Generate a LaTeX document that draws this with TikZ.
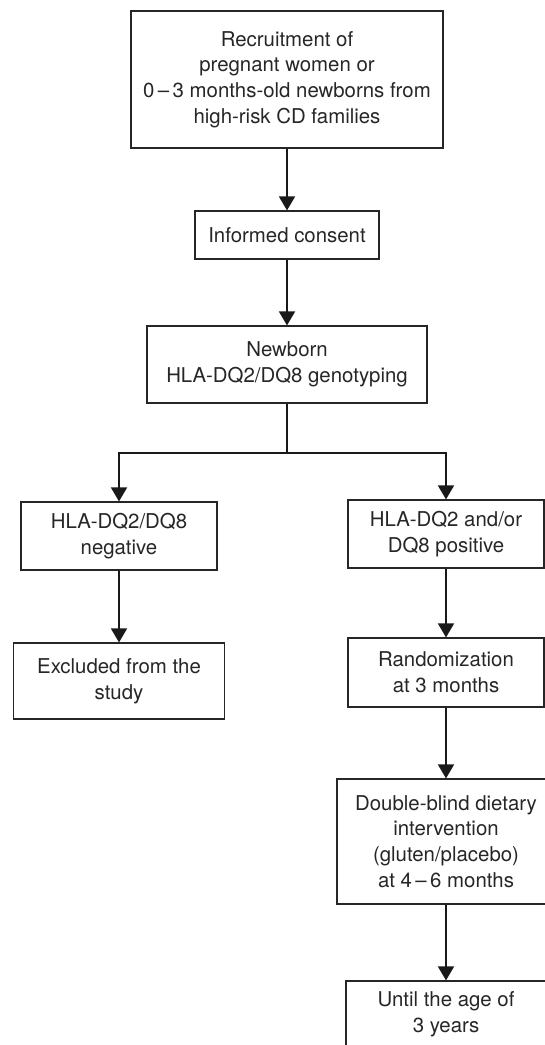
\documentclass[tikz,border=0pt]{standalone}
\usepackage{fontspec}
\setmainfont{TeX Gyre Heros}
\usepackage{tikz}
\usetikzlibrary{arrows.meta,positioning}
\tikzstyle{stage} = [rectangle, draw=black!85, line width=0.6pt, align=center, inner sep=2pt, text=black!85, font=\fontsize{10.2}{12.85}\selectfont]
\tikzstyle{arrow} = [-{Triangle[length=7pt,width=8pt]}, line width=0.9pt, draw=black!90]
\tikzstyle{branch} = [line width=0.9pt, draw=black!90]

\begin{document}
\begin{tikzpicture}[x=0.5pt, y=-0.5pt]
\useasboundingbox (0,0) rectangle (545,1045);
% main trunk
\node[stage, minimum width=156pt, minimum height=68.5pt] (recruit) at (287,79.5) {Recruitment of\\pregnant women or\\0\,--\,3 months-old newborns from\\high-risk CD families};
\node[stage, minimum width=92pt, minimum height=24pt] (consent) at (287,235) {Informed consent};
\node[stage, minimum width=140pt, minimum height=38.5pt] (genotype) at (287,364.5) {Newborn\\HLA-DQ2/DQ8 genotyping};
\coordinate (split) at (287,453);
\draw[arrow] (recruit) -- (consent);
\draw[arrow] (consent) -- (genotype);
\draw[branch] (genotype) -- (split);

% negative branch
\node[stage, minimum width=98pt, minimum height=34pt] (negative) at (119,536) {HLA-DQ2/DQ8\\negative};
\node[stage, minimum width=105.5pt, minimum height=38pt] (excluded) at (119,681) {Excluded from the\\study};
\draw[arrow] (split) -| (negative);
\draw[arrow] (negative) -- (excluded);

% positive branch
\node[stage, minimum width=98pt, minimum height=34pt] (positive) at (446,534) {HLA-DQ2 and/or\\DQ8 positive};
\node[stage, minimum width=98pt, minimum height=34.5pt] (random) at (446,672.5) {Randomization\\at 3 months};
\node[stage, minimum width=109pt, minimum height=62.5pt] (dietary) at (446,841.5) {Double-blind dietary\\intervention\\(gluten/placebo)\\at 4\,--\,6 months};
\node[stage, minimum width=100pt, minimum height=33pt] (untilage) at (446,1014) {Until the age of\\3 years};
\draw[arrow] (split) -| (positive);
\draw[arrow] (positive) -- (random);
\draw[arrow] (random) -- (dietary);
\draw[arrow] (dietary) -- (untilage);
\end{tikzpicture}
\end{document}
